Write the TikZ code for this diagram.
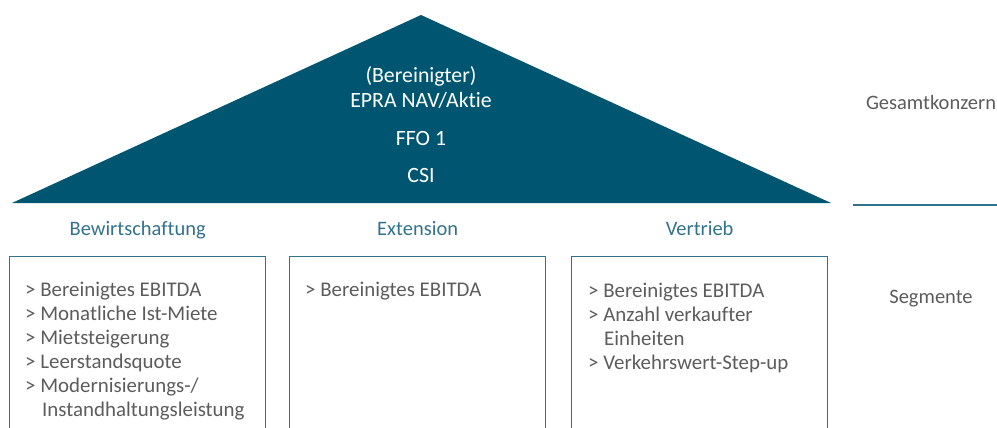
\documentclass[tikz,border=0pt]{standalone}
\usepackage{fontspec}
\setmainfont[Ligatures=NoCommon]{Carlito}
\usetikzlibrary{positioning}

\definecolor{roofblue}{RGB}{0,86,112}
\definecolor{segteal}{RGB}{50,115,140}
\definecolor{textgray}{RGB}{92,92,92}

\tikzstyle{roof} = [fill=roofblue]
\tikzstyle{rooftext} = [font=\fontsize{21.8}{24}\selectfont,text=white,inner sep=0pt,anchor=base]
\tikzstyle{seghead} = [font=\fontsize{20.5}{24}\selectfont,text=segteal,inner sep=0pt,anchor=base]
\tikzstyle{segbox} = [draw=segteal,line width=1.3pt,anchor=north west,minimum width=256pt,minimum height=200pt,inner sep=0pt]
\tikzstyle{item} = [font=\fontsize{20.9}{24}\selectfont,text=textgray,inner sep=0pt,anchor=base west]
\tikzstyle{level} = [font=\fontsize{20.5}{24}\selectfont,text=textgray,inner sep=0pt,anchor=base]
\tikzstyle{levelline} = [draw=segteal,line width=1.4pt]

\begin{document}
\begin{tikzpicture}[x=1pt,y=-1pt]
      \useasboundingbox (0,0) rectangle (997,428);
      % roof
      \coordinate (roofleft) at (12,203);
      \coordinate (rooftop) at (421,15);
      \coordinate (roofright) at (831,203);
      \path[roof] (roofleft) -- (rooftop) -- (roofright) -- cycle;
      \foreach \nodename/\y/\value in {
        nav1/83/{(Bereinigter)},
        nav2/107/{EPRA NAV/Aktie},
        ffo/145/{FFO 1},
        csi/182/{CSI}}
      {
        \node[rooftext] (\nodename) at (421,\y) {\value};
      };
      % segments
      \foreach \nodename/\x/\title in {
        bew/9/Bewirtschaftung,
        ext/289/Extension,
        ver/571/Vertrieb}
      {
        \node[segbox] (\nodename) at (\x,256) {};
        \node[seghead] (\nodename head) at ([yshift=21pt]\nodename.north) {\title};
      };
      % items
      \foreach \nodename/\x/\y/\value in {
        bew1/25/296/{> Bereinigtes EBITDA},
        bew2/25/320/{> Monatliche Ist-Miete},
        bew3/25/344/{> Mietsteigerung},
        bew4/25/368/{> Leerstandsquote},
        bew5/25/392/{> Modernisierungs-/},
        bew6/42/416/{Instandhaltungsleistung},
        ext1/305/296/{> Bereinigtes EBITDA},
        ver1/588/297/{> Bereinigtes EBITDA},
        ver2/588/321/{> Anzahl verkaufter},
        ver3/604/345/{Einheiten},
        ver4/588/369/{> Verkehrswert-Step-up}}
      {
        \node[item] (\nodename) at (\x,\y) {\value};
      };
      % levels
      \node[level] (konzern) at (931,110) {Gesamtkonzern};
      \node[level] (segmente) at (931,303) {Segmente};
      \coordinate (divleft) at (853,205);
      \coordinate (divright) at (997,205);
      \path[levelline] (divleft) -- (divright);
    \end{tikzpicture}
\end{document}
